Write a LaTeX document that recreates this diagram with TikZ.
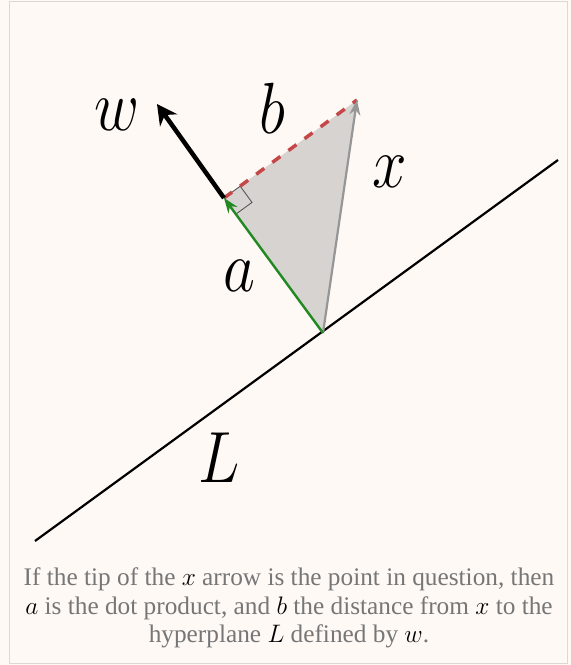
\RequirePackage{fix-cm}
\documentclass[tikz,border=0pt]{standalone}
\usepackage{fontspec}
\setmainfont{Liberation Serif}
\usetikzlibrary{arrows.meta,calc}
\definecolor{bgc}{RGB}{255,249,245}
\definecolor{framec}{RGB}{222,216,212}
\definecolor{capc}{RGB}{118,118,118}
\definecolor{greenc}{RGB}{34,136,34}
\definecolor{redc}{RGB}{196,72,72}
\definecolor{fillc}{RGB}{214,211,209}
\definecolor{grayc}{RGB}{150,150,150}
\tikzset{
  biglabel/.style={font=\fontsize{62}{62}\selectfont, inner sep=0pt, yscale=1.17},
  caption/.style={font=\fontsize{25.3}{28.5}\selectfont, text=capc, align=center, inner sep=0pt},
}
\begin{document}
\begin{tikzpicture}[x=1pt,y=-1pt]
\useasboundingbox (0,0) rectangle (571,665);
\fill[bgc] (0,0) rectangle (571,665);
\draw[framec, line width=1pt, fill=bgc] (9.5,1.5) rectangle (567.5,663);
% points
\coordinate (Ls) at (35,541);
\coordinate (Le) at (558,160);
\coordinate (base) at (323,333);
\coordinate (foot) at (224,198);
\coordinate (wtip) at (157,104);
\coordinate (xtip) at (357,100);
% triangle
\fill[fillc] (base) -- (foot) -- (xtip) -- cycle;
% line L
\draw[black, line width=2.2pt] (Ls) -- (Le);
% right angle mark
\draw[black!70, line width=0.8pt] (foot) -- ++(16.2,-11.8) -- ++(11.8,16.2) -- ++(-16.2,11.8);
% red dashed
\draw[redc, line width=3.5pt, dash pattern=on 10pt off 10pt] (foot) -- (xtip);
% x arrow
\draw[grayc, line width=2.2pt, -{Stealth[length=15pt,width=11pt]}] (base) -- (xtip);
% green arrow
\draw[greenc, line width=2.4pt, -{Stealth[length=15pt,width=11pt]}] (base) -- (foot);
% w arrow
\draw[black, line width=4.5pt, -{Stealth[length=20pt,width=21pt]}] (foot) -- (wtip);
% labels
\node[biglabel] (lw) at (117,115) {$w$};
\node[biglabel] (lb) at (272,108) {$b$};
\node[biglabel] (lx) at (390,172) {$x$};
\node[biglabel] (la) at (239,276) {$a$};
\node[biglabel] (lL) at (219,458) {$L$};
% caption
\node[caption] (cap) at (289,608) {If the tip of the \textcolor{black}{$x$} arrow is the point in question, then\\
\textcolor{black}{$a$} is the dot product, and \textcolor{black}{$b$} the distance from \textcolor{black}{$x$} to the\\
hyperplane \textcolor{black}{$L$} defined by \textcolor{black}{$w$}.};
\end{tikzpicture}
\end{document}
